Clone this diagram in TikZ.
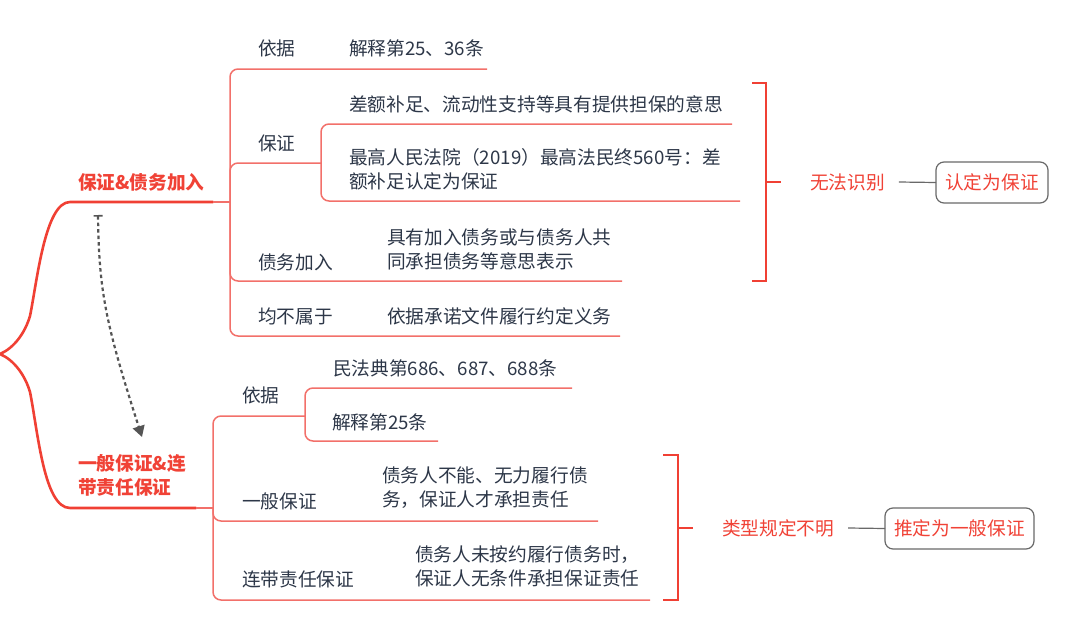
\documentclass[tikz,border=0pt]{standalone}
\usepackage{fontspec}
\setmainfont{Noto Sans CJK SC}
\usetikzlibrary{arrows.meta}
\definecolor{txt}{RGB}{45,55,72}
\definecolor{redlbl}{RGB}{240,66,54}
\definecolor{thinred}{RGB}{242,112,106}
\definecolor{thickred}{RGB}{240,64,52}
\definecolor{grayln}{RGB}{105,105,105}
\definecolor{arrowgray}{RGB}{85,85,85}
\begin{document}
\begin{tikzpicture}[x=1pt,y=-1pt,
  every node/.style={inner sep=0pt,outer sep=0pt},
  lbl/.style={anchor=west,text=txt,font=\fontsize{18.7}{24}\selectfont,align=left},
  mainlbl/.style={anchor=west,text=redlbl,font=\fontsize{18.7}{24}\selectfont\bfseries,align=left},
  redtxt/.style={anchor=west,text=redlbl,font=\fontsize{18.7}{24}\selectfont},
  resbox/.style={draw=grayln,line width=1.2pt,rounded corners=8pt,text=redlbl,font=\fontsize{18.7}{24}\selectfont,minimum height=41pt},
  branch/.style={draw=thinred,line width=1.5pt,rounded corners=8pt},
  trunk/.style={draw=thickred,line width=2.6pt,line cap=round},
  bracketln/.style={draw=thickred,line width=2.6pt},
  linkln/.style={draw=grayln,line width=1.2pt}]
\useasboundingbox (0,0) rectangle (1080,635);

% ---------- root brace ----------
\coordinate (root) at (0,354);
\coordinate (uc) at (70,202);
\coordinate (lc) at (70,508);
\coordinate (ut) at (213,202);
\coordinate (lt) at (196,508);
\coordinate (uj) at (230,202);
\coordinate (lj) at (213,508);
\draw[trunk] (root) .. controls (14,348) and (25,333) .. (30,316)
  .. controls (37,282) and (45,202) .. (uc) -- (ut);
\draw[trunk] (root) .. controls (14,360) and (25,375) .. (30,392)
  .. controls (38,432) and (44,508) .. (lc) -- (lt);
\draw[branch] (ut) -- (uj);
\draw[branch] (lt) -- (lj);

% ---------- main labels ----------
\node[mainlbl] (mu) at (78,182) {保证\&债务加入};
\node[mainlbl] (ml) at (78,475) {一般保证\&连\\带责任保证};

% ---------- dotted arrow ----------
\coordinate (da) at (98,215);
\coordinate (db) at (142,437);
\draw[arrowgray,line width=2.2pt,dash pattern=on 3.5pt off 3pt,
  {Bar[width=9pt,line width=1.6pt]}-{Triangle[width=12pt,length=11pt]}]
  (da) .. controls (99,290) and (105,322) .. (db);

% ---------- upper group ----------
\coordinate (e1) at (487,69);
\coordinate (sj) at (321,163);
\coordinate (e2a) at (732,124);
\coordinate (e2b) at (740,201);
\coordinate (e3) at (622,281);
\coordinate (e4) at (620,336);
\draw[branch] (uj) |- (e1);
\draw[branch] (uj) |- (sj);
\draw[branch] (uj) |- (e3);
\draw[branch] (uj) |- (e4);
\draw[branch] (sj) |- (e2a);
\draw[branch] (sj) |- (e2b);

\node[lbl] (n1) at (258,48) {依据};
\node[lbl] (n1a) at (349,48) {解释第25、36条};
\node[lbl] (n2) at (258,143) {保证};
\node[lbl] (n2a) at (349,104) {差额补足、流动性支持等具有提供担保的意思};
\node[lbl] (n2b) at (349,169) {最高人民法院（2019）最高法民终560号：差\\额补足认定为保证};
\node[lbl] (n3) at (258,262) {债务加入};
\node[lbl] (n3a) at (387,249) {具有加入债务或与债务人共\\同承担债务等意思表示};
\node[lbl] (n4) at (258,316) {均不属于};
\node[lbl] (n4a) at (387,316) {依据承诺文件履行约定义务};

% ---------- lower group ----------
\coordinate (sk) at (305,416);
\coordinate (f1a) at (572,388);
\coordinate (f1b) at (438,441);
\coordinate (f2) at (598,521);
\coordinate (f3) at (650,600);
\draw[branch] (lj) |- (sk);
\draw[branch] (lj) |- (f2);
\draw[branch] (lj) |- (f3);
\draw[branch] (sk) |- (f1a);
\draw[branch] (sk) |- (f1b);

\node[lbl] (m1) at (242,395) {依据};
\node[lbl] (m1a) at (333,368) {民法典第686、687、688条};
\node[lbl] (m1b) at (332,422) {解释第25条};
\node[lbl] (m2) at (242,501) {一般保证};
\node[lbl] (m2a) at (382,488) {债务人不能、无力履行债\\务，保证人才承担责任};
\node[lbl] (m3) at (242,579) {连带责任保证};
\node[lbl] (m3a) at (415,566) {债务人未按约履行债务时，\\保证人无条件承担保证责任};

% ---------- right brackets ----------
\coordinate (ba1) at (752,83);
\coordinate (ba2) at (766,83);
\coordinate (ba3) at (766,281);
\coordinate (ba4) at (752,281);
\coordinate (bam) at (766,182);
\coordinate (bat) at (781,182);
\draw[bracketln] (ba1) -- (ba2) -- (ba3) -- (ba4);
\draw[bracketln] (bam) -- (bat);

\coordinate (bb1) at (663,455);
\coordinate (bb2) at (678,455);
\coordinate (bb3) at (678,600);
\coordinate (bb4) at (663,600);
\coordinate (bbm) at (678,528);
\coordinate (bbt) at (693,528);
\draw[bracketln] (bb1) -- (bb2) -- (bb3) -- (bb4);
\draw[bracketln] (bbm) -- (bbt);

\node[redtxt] (r1) at (810,182) {无法识别};
\node[resbox,minimum width=112pt] (b1) at (992,182.5) {认定为保证};
\draw[linkln] ([xshift=14pt]r1.east) -- (b1.west);

\node[redtxt] (r2) at (722,528) {类型规定不明};
\node[resbox,minimum width=149pt] (b2) at (959.5,528.5) {推定为一般保证};
\draw[linkln] ([xshift=14pt]r2.east) -- (b2.west);
\end{tikzpicture}
\end{document}
